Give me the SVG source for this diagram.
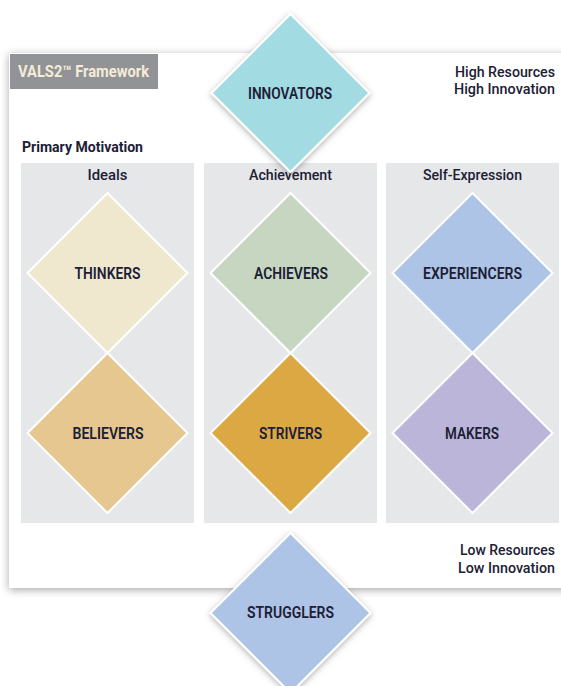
<svg xmlns="http://www.w3.org/2000/svg" width="561" height="686" viewBox="0 0 561 686">
<defs>
<filter id="sh" x="-10%" y="-10%" width="120%" height="120%">
<feDropShadow dx="0" dy="2" stdDeviation="4" flood-color="#000" flood-opacity="0.35"/>
</filter>
<filter id="dsh" x="-20%" y="-20%" width="140%" height="140%">
<feDropShadow dx="0" dy="2" stdDeviation="3" flood-color="#000" flood-opacity="0.3"/>
</filter>
</defs>
<style>
text{font-family:Roboto,"Liberation Sans",sans-serif;font-weight:700;fill:#1c2035}
.lbl{font-size:16.5px;text-anchor:middle;font-weight:600}
.hd{font-size:15px;text-anchor:middle;font-weight:500}
.rt{font-size:14px;text-anchor:end;font-weight:500}
.col{fill:#e6e7e8}
.dia{stroke:#ffffff;stroke-width:2}
</style>
<rect width="561" height="686" fill="#ffffff"/>
<g id="panel">
<rect x="9" y="53" width="560" height="535" fill="#ffffff" filter="url(#sh)"/>
<rect x="10" y="54" width="148" height="35" fill="#929396"/>
<text x="18" y="77" style="font-size:16px;fill:#f4ecd8" textLength="131" lengthAdjust="spacingAndGlyphs">VALS2™ Framework</text>
<text x="22" y="152" style="font-size:15px" textLength="121" lengthAdjust="spacingAndGlyphs">Primary Motivation</text>
<text class="rt" x="555" y="77" textLength="100" lengthAdjust="spacingAndGlyphs">High Resources</text>
<text class="rt" x="555" y="94" textLength="101" lengthAdjust="spacingAndGlyphs">High Innovation</text>
<text class="rt" x="555" y="555" textLength="95" lengthAdjust="spacingAndGlyphs">Low Resources</text>
<text class="rt" x="555" y="573" textLength="97" lengthAdjust="spacingAndGlyphs">Low Innovation</text>
</g>
<g id="col-ideals">
<rect class="col" x="21" y="163" width="173" height="360"/>
<text class="hd" x="107.5" y="180" textLength="40" lengthAdjust="spacingAndGlyphs">Ideals</text>
</g>
<g id="col-achievement">
<rect class="col" x="204" y="163" width="173" height="360"/>
<text class="hd" x="290.5" y="180" textLength="83" lengthAdjust="spacingAndGlyphs">Achievement</text>
</g>
<g id="col-selfexpression">
<rect class="col" x="386" y="163" width="173" height="360"/>
<text class="hd" x="472.5" y="180" textLength="99" lengthAdjust="spacingAndGlyphs">Self-Expression</text>
</g>
<g id="connectors"></g>
<g id="thinkers">
<polygon class="dia" points="107.5,193 187.5,273 107.5,353 27.5,273" fill="#f0e7cf"/>
<text class="lbl" x="107.5" y="279" textLength="66" lengthAdjust="spacingAndGlyphs">THINKERS</text>
</g>
<g id="believers">
<polygon class="dia" points="107.5,353 187.5,433 107.5,513 27.5,433" fill="#e6c78f"/>
<text class="lbl" x="108" y="439" textLength="71" lengthAdjust="spacingAndGlyphs">BELIEVERS</text>
</g>
<g id="achievers">
<polygon class="dia" points="290.5,193 370.5,273 290.5,353 210.5,273" fill="#c6d6c1"/>
<text class="lbl" x="291" y="279" textLength="74" lengthAdjust="spacingAndGlyphs">ACHIEVERS</text>
</g>
<g id="strivers">
<polygon class="dia" points="290.5,353 370.5,433 290.5,513 210.5,433" fill="#dba843"/>
<text class="lbl" x="290.5" y="439" textLength="63" lengthAdjust="spacingAndGlyphs">STRIVERS</text>
</g>
<g id="experiencers">
<polygon class="dia" points="472.5,193 552.5,273 472.5,353 392.5,273" fill="#aec4e6"/>
<text class="lbl" x="472.5" y="279" textLength="99" lengthAdjust="spacingAndGlyphs">EXPERIENCERS</text>
</g>
<g id="makers">
<polygon class="dia" points="472.5,353 552.5,433 472.5,513 392.5,433" fill="#bbb6d9"/>
<text class="lbl" x="472" y="439" textLength="54" lengthAdjust="spacingAndGlyphs">MAKERS</text>
</g>
<g id="innovators">
<polygon class="dia" points="290.5,14 369.5,93 290.5,172 211.5,93" fill="#a3dbe3" filter="url(#dsh)"/>
<text class="lbl" x="290" y="99" textLength="84" lengthAdjust="spacingAndGlyphs">INNOVATORS</text>
</g>
<g id="strugglers">
<polygon class="dia" points="290.5,533 370.5,613 290.5,693 210.5,613" fill="#aec4e6" filter="url(#dsh)"/>
<text class="lbl" x="290.5" y="618" textLength="87" lengthAdjust="spacingAndGlyphs">STRUGGLERS</text>
</g>
</svg>
